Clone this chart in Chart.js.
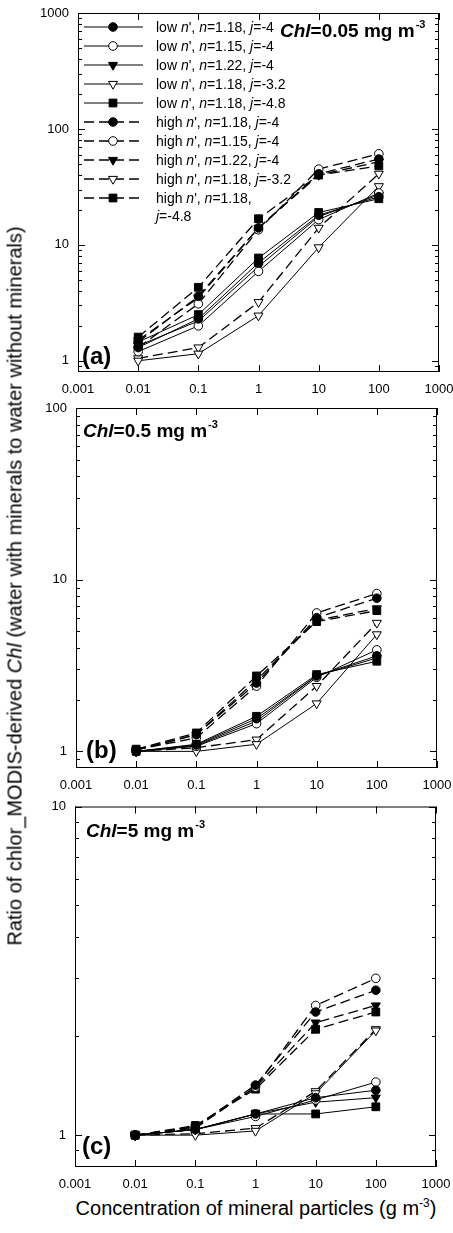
<!DOCTYPE html>
<html>
<head>
<meta charset="utf-8">
<script src="https://cdn.jsdelivr.net/npm/chart.js@4.4.1/dist/chart.umd.min.js"></script>
<style>
  html, body { margin: 0; padding: 0; background: #fff; }
  #fig { position: relative; width: 453px; height: 1233px; overflow: hidden;
         font-family: "Liberation Sans", Arial, Helvetica, sans-serif; color: #000; }
  #fig canvas { position: absolute; left: 0; }
  .ytitle { position: absolute; left: 15px; top: 586px; white-space: nowrap; font-size: 20px;
            transform: translate(-50%, -50%) rotate(-90deg); }
  .xtitle { position: absolute; left: 256px; top: 1208px; white-space: nowrap; font-size: 20px;
            transform: translate(-50%, -50%); }
  sup { font-size: 12px; vertical-align: 8px; line-height: 0; }
</style>
</head>
<body>
<div id="fig">
  <canvas id="ca" width="453" height="400" style="top:0px"></canvas>
  <canvas id="cb" width="453" height="400" style="top:400px"></canvas>
  <canvas id="cc" width="453" height="395" style="top:800px"></canvas>
  <div class="ytitle">Ratio of chlor_MODIS-derived <i>Chl</i> (water with minerals to water without minerals)</div>
  <div class="xtitle">Concentration of mineral particles (g m<sup>-3</sup>)</div>
</div>
<script>
const FONT = '"Liberation Sans", Arial, Helvetica, sans-serif';

// mineral concentration (g m-3)
const conc = [0.01, 0.1, 1, 10, 100];
const xTicks = [0.001, 0.01, 0.1, 1, 10, 100, 1000];
const yTicksA = [1, 10, 100, 1000];
const yTicksB = [1, 10, 100];
const yTicksC = [1, 10];

// *x* = italic
const legendLabels = [
  "low *n*', *n*=1.18, *j*=-4",
  "low *n*', *n*=1.15, *j*=-4",
  "low *n*', *n*=1.22, *j*=-4",
  "low *n*', *n*=1.18, *j*=-3.2",
  "low *n*', *n*=1.18, *j*=-4.8",
  "high *n*', *n*=1.18, *j*=-4",
  "high *n*', *n*=1.15, *j*=-4",
  "high *n*', *n*=1.22, *j*=-4",
  "high *n*', *n*=1.18, *j*=-3.2",
  "high *n*', *n*=1.18,\n*j*=-4.8"
];
const markers = ['circle', 'circle', 'triangle', 'triangle', 'rect',
                 'circle', 'circle', 'triangle', 'triangle', 'rect'];
const filled = [true, false, true, false, true, true, false, true, false, true];
const dashed = [false, false, false, false, false, true, true, true, true, true];

// (a) Chl = 0.05 mg m-3
const aLow118 = [1.3, 2.3, 7.0, 18, 26];
const aLow115 = [1.2, 2.0, 5.9, 16.5, 28];
const aLow122 = [1.35, 2.2, 6.5, 17.5, 27];
const aLowJ32 = [1.0, 1.15, 2.45, 9.5, 32];
const aLowJ48 = [1.45, 2.5, 7.7, 19, 25];
const aHigh118 = [1.45, 3.6, 14, 41, 55];
const aHigh115 = [1.3, 3.1, 13.5, 45, 61];
const aHigh122 = [1.5, 3.5, 14, 40, 52];
const aHighJ32 = [1.05, 1.3, 3.2, 14, 41];
const aHighJ48 = [1.6, 4.3, 16.8, 40, 48];

// (b) Chl = 0.5 mg m-3
const bLow118 = [1.0, 1.09, 1.55, 2.75, 3.6];
const bLow115 = [1.0, 1.07, 1.45, 2.7, 3.9];
const bLow122 = [1.0, 1.08, 1.5, 2.75, 3.5];
const bLowJ32 = [1.0, 1.0, 1.1, 1.9, 4.8];
const bLowJ48 = [1.0, 1.1, 1.6, 2.8, 3.35];
const bHigh118 = [1.02, 1.25, 2.5, 6.0, 7.8];
const bHigh115 = [1.02, 1.2, 2.4, 6.4, 8.3];
const bHigh122 = [1.02, 1.25, 2.6, 5.8, 6.8];
const bHighJ32 = [1.0, 1.05, 1.17, 2.4, 5.6];
const bHighJ48 = [1.03, 1.28, 2.75, 5.7, 6.6];

// (c) Chl = 5 mg m-3
const cLow118 = [1.0, 1.04, 1.16, 1.3, 1.37];
const cLow115 = [1.0, 1.04, 1.14, 1.28, 1.45];
const cLow122 = [1.0, 1.04, 1.16, 1.26, 1.3];
const cLowJ32 = [1.0, 1.0, 1.03, 1.34, 2.08];
const cLowJ48 = [1.0, 1.04, 1.16, 1.16, 1.22];
const cHigh118 = [1.0, 1.06, 1.42, 2.37, 2.76];
const cHigh115 = [1.0, 1.05, 1.4, 2.48, 3.0];
const cHigh122 = [1.0, 1.06, 1.4, 2.2, 2.48];
const cHighJ32 = [1.0, 1.01, 1.05, 1.36, 2.1];
const cHighJ48 = [1.0, 1.07, 1.38, 2.1, 2.37];

const markerSize = { circle: 4.3, triangle: 5.2, rect: 5.5 };

const panels = [
  { id: 'a', top: 0, height: 400, plot: [78, 13, 439, 372], yMax: 1000, yTicks: yTicksA,
    series: [aLow118, aLow115, aLow122, aLowJ32, aLowJ48, aHigh118, aHigh115, aHigh122, aHighJ32, aHighJ48],
    tag: '(a)', tagPos: [82, 364], note: '*Chl*=0.05 mg m^-3', notePos: [280, 37], legend: true },
  { id: 'b', top: 400, height: 400, plot: [76, 408, 437, 768], yMax: 100, yTicks: yTicksB,
    series: [bLow118, bLow115, bLow122, bLowJ32, bLowJ48, bHigh118, bHigh115, bHigh122, bHighJ32, bHighJ48],
    tag: '(b)', tagPos: [86, 758], note: '*Chl*=0.5 mg m^-3', notePos: [83, 437] },
  { id: 'c', top: 800, height: 395, plot: [75, 806, 436, 1167], yMax: 10, yTicks: yTicksC,
    series: [cLow118, cLow115, cLow122, cLowJ32, cLowJ48, cHigh118, cHigh115, cHigh122, cHighJ32, cHighJ48],
    tag: '(c)', tagPos: [82, 1154], note: '*Chl*=5 mg m^-3', notePos: [86, 837] }
];

// text with *italic* parts and an optional ^superscript tail
function drawRich(ctx, str, x, y, size, bold) {
  let sup = '';
  const k = str.indexOf('^');
  if (k >= 0) { sup = str.slice(k + 1); str = str.slice(0, k); }
  str.split('*').forEach((part, i) => {
    ctx.font = (i % 2 ? 'italic ' : '') + (bold ? 'bold ' : '') + size + 'px ' + FONT;
    ctx.fillText(part, x, y);
    x += ctx.measureText(part).width;
  });
  if (sup) {
    ctx.font = (bold ? 'bold ' : '') + Math.round(size * 0.6) + 'px ' + FONT;
    ctx.fillText(sup, x + 1, y - size * 0.45);
  }
}

function minorTicks(min, max) {
  const out = [];
  for (let d = 0.1; d < max; d *= 10) {
    for (let m = 2; m <= 9; m++) {
      const v = m * d;
      if (v > min && v < max) out.push(v);
    }
  }
  return out;
}

function makeChart(p) {
  const [L, T, R, B] = p.plot;
  const yMin = 0.8;

  const datasets = p.series.map((vals, i) => ({
    label: legendLabels[i],
    data: conc.map((x, k) => ({ x: x, y: vals[k] })),
    borderColor: '#000',
    borderWidth: dashed[i] ? 1.3 : 1,
    borderDash: dashed[i] ? [10, 5] : [],
    pointStyle: markers[i],
    pointRotation: markers[i] === 'triangle' ? 180 : 0,
    pointRadius: markerSize[markers[i]],
    pointBackgroundColor: filled[i] ? '#000' : '#fff',
    pointBorderColor: '#000',
    pointBorderWidth: 1,
    fill: false,
    tension: 0
  }));

  const deco = {
    id: 'deco' + p.id,
    afterDraw(chart) {
      const ctx = chart.ctx;
      const area = chart.chartArea;
      const xs = chart.scales.x, ys = chart.scales.y;
      ctx.save();
      ctx.strokeStyle = '#000';
      ctx.fillStyle = '#000';
      ctx.lineWidth = 1;
      ctx.setLineDash([]);
      // frame
      ctx.strokeRect(area.left + 0.5, area.top + 0.5, area.right - area.left - 1, area.bottom - area.top - 1);
      // inward ticks
      ctx.beginPath();
      xTicks.forEach(v => {
        const px = Math.round(xs.getPixelForValue(v)) + 0.5;
        ctx.moveTo(px, area.bottom); ctx.lineTo(px, area.bottom - 7);
        ctx.moveTo(px, area.top); ctx.lineTo(px, area.top + 7);
      });
      p.yTicks.forEach(v => {
        const py = Math.round(ys.getPixelForValue(v)) + 0.5;
        ctx.moveTo(area.left, py); ctx.lineTo(area.left + 7, py);
        ctx.moveTo(area.right, py); ctx.lineTo(area.right - 7, py);
      });
      minorTicks(yMin, p.yMax).forEach(v => {
        const py = Math.round(ys.getPixelForValue(v)) + 0.5;
        ctx.moveTo(area.left, py); ctx.lineTo(area.left + 4, py);
        ctx.moveTo(area.right, py); ctx.lineTo(area.right - 4, py);
      });
      ctx.stroke();

      ctx.textBaseline = 'alphabetic';
      ctx.textAlign = 'left';
      drawRich(ctx, p.tag, p.tagPos[0], p.tagPos[1] - p.top, 24, true);
      drawRich(ctx, p.note, p.notePos[0], p.notePos[1] - p.top, 19, true);

      if (p.legend) {
        chart.data.datasets.forEach((ds, i) => {
          const y = 27 + i * 19 - p.top;
          ctx.beginPath();
          ctx.lineWidth = ds.borderWidth;
          ctx.setLineDash(ds.borderDash);
          ctx.moveTo(84, y); ctx.lineTo(143, y);
          ctx.stroke();
          ctx.setLineDash([]);
          ctx.lineWidth = 1;
          ctx.fillStyle = ds.pointBackgroundColor;
          ctx.strokeStyle = '#000';
          Chart.helpers.drawPoint(ctx, {
            pointStyle: ds.pointStyle, rotation: ds.pointRotation,
            radius: ds.pointRadius, borderWidth: 1
          }, 113, y);
          ctx.fillStyle = '#000';
          ds.label.split('\n').forEach((line, j) => {
            drawRich(ctx, line, 156, y + 5 + j * 18, 14, false);
          });
        });
      }
      ctx.restore();
    }
  };

  new Chart(document.getElementById('c' + p.id), {
    type: 'line',
    data: { datasets: datasets },
    options: {
      responsive: false,
      animation: false,
      devicePixelRatio: 1,
      layout: { padding: { left: 0, top: T - p.top, right: 453 - R, bottom: 0 } },
      plugins: { legend: { display: false }, tooltip: { enabled: false } },
      scales: {
        x: {
          type: 'logarithmic', min: 0.001, max: 1000,
          grid: { display: false, drawTicks: false },
          border: { display: false },
          afterBuildTicks: s => { s.ticks = xTicks.map(v => ({ value: v })); },
          afterFit: s => { s.height = p.top + p.height - B; s.paddingLeft = 0; s.paddingRight = 0; },
          ticks: { autoSkip: false, maxRotation: 0, padding: 10, color: '#000',
                   font: { family: FONT, size: 13 }, callback: v => String(v) }
        },
        y: {
          type: 'logarithmic', min: yMin, max: p.yMax,
          grid: { display: false, drawTicks: false },
          border: { display: false },
          afterBuildTicks: s => { s.ticks = p.yTicks.map(v => ({ value: v })); },
          afterFit: s => { s.width = L; s.paddingTop = 0; s.paddingBottom = 0; },
          ticks: { autoSkip: false, padding: 9, color: '#000',
                   font: { family: FONT, size: 13 }, callback: v => String(v) }
        }
      }
    },
    plugins: [deco]
  });
}

panels.forEach(makeChart);
</script>
</body>
</html>
